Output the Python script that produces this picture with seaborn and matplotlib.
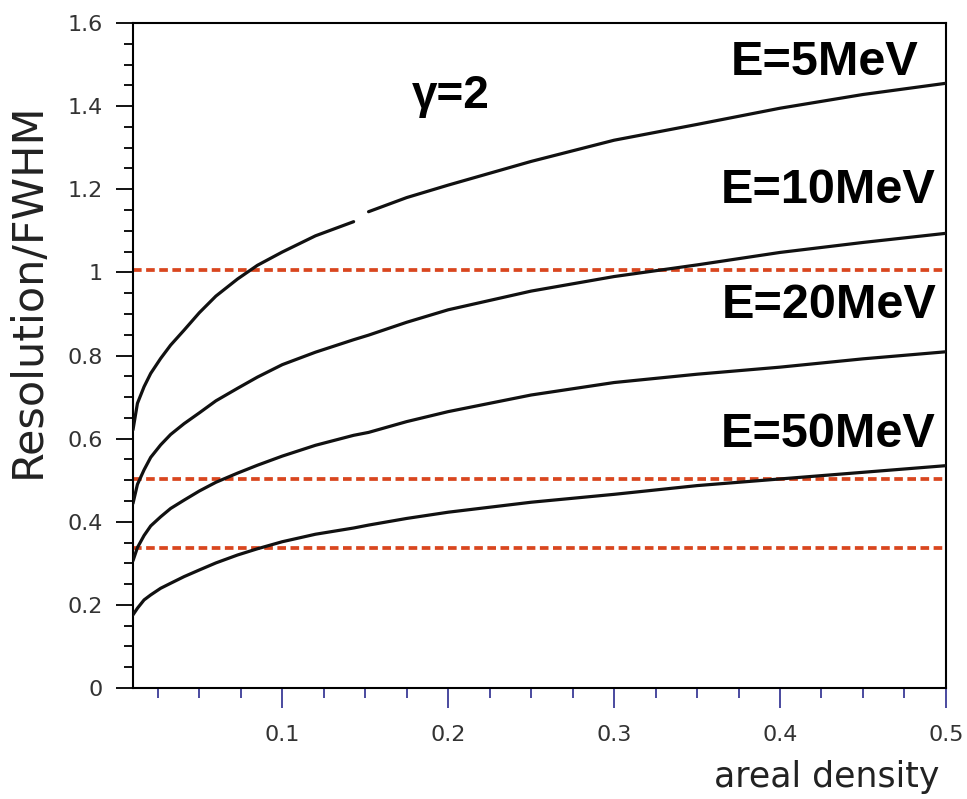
import numpy as np
import pandas as pd
import matplotlib
matplotlib.use("Agg")
import matplotlib.pyplot as plt
from matplotlib.ticker import MultipleLocator, FuncFormatter
import seaborn as sns

# areal density sample points
density = [0.01, 0.0127, 0.0167, 0.0207, 0.0267, 0.0327, 0.0408, 0.05, 0.06, 0.073,
           0.085, 0.1, 0.12, 0.143, 0.152, 0.175, 0.2, 0.25, 0.3, 0.35, 0.4, 0.45, 0.5]

res_5mev = [0.621, 0.685, 0.725, 0.757, 0.793, 0.825, 0.861, 0.903, 0.943, 0.984,
            1.017, 1.049, 1.088, 1.122, 1.146, 1.18, 1.21, 1.267, 1.318, 1.356,
            1.395, 1.428, 1.455]
res_10mev = [0.444, 0.49, 0.525, 0.555, 0.585, 0.61, 0.636, 0.662, 0.691, 0.721,
             0.748, 0.778, 0.808, 0.838, 0.849, 0.88, 0.91, 0.955, 0.99, 1.018,
             1.048, 1.072, 1.094]
res_20mev = [0.306, 0.338, 0.367, 0.39, 0.412, 0.432, 0.452, 0.474, 0.495, 0.517,
             0.536, 0.558, 0.584, 0.608, 0.615, 0.641, 0.665, 0.705, 0.735, 0.755,
             0.772, 0.792, 0.809]
res_50mev = [0.176, 0.192, 0.212, 0.224, 0.24, 0.252, 0.268, 0.284, 0.301, 0.32,
             0.335, 0.352, 0.37, 0.385, 0.392, 0.408, 0.423, 0.447, 0.466, 0.487,
             0.503, 0.519, 0.535]

energies = ["E=5MeV", "E=10MeV", "E=20MeV", "E=50MeV"]
series = [res_5mev, res_10mev, res_20mev, res_50mev]

# horizontal reference levels (dashed)
ref_levels = [1.005, 0.503, 0.337]

# the 5 MeV curve has a small break in the original
gap_after = {"E=5MeV": 0.145}

rows = []
for name, vals in zip(energies, series):
    for x, y in zip(density, vals):
        seg = 1 if (name in gap_after and x > gap_after[name]) else 0
        rows.append({"density": x, "res": y, "energy": name, "seg": seg})
df = pd.DataFrame(rows)

sns.set_style("ticks")
plt.rcParams["font.family"] = ["DejaVu Sans"]

fig = plt.figure(figsize=(9.67, 7.99), dpi=100)
ax = fig.add_axes([0.1375, 0.1389, 0.8407, 0.8323])

for (name, seg), part in df.groupby(["energy", "seg"]):
    sns.lineplot(data=part, x="density", y="res", color="#111111",
                 linewidth=2.3, sort=True, ax=ax, zorder=3)

for lvl in ref_levels:
    ax.axhline(lvl, color="#d9461f", linewidth=2.7, dashes=(2.3, 1.2), zorder=2)

ax.set_xlim(0.01, 0.5)
ax.set_ylim(0, 1.6)

ax.xaxis.set_major_locator(MultipleLocator(0.1))
ax.xaxis.set_minor_locator(MultipleLocator(0.025))
ax.yaxis.set_major_locator(MultipleLocator(0.2))
ax.yaxis.set_minor_locator(MultipleLocator(0.05))
ax.yaxis.set_major_formatter(FuncFormatter(lambda v, p: f"{v:g}"))
ax.xaxis.set_major_formatter(FuncFormatter(lambda v, p: f"{v:g}"))

ax.tick_params(axis="x", which="major", length=14.4, width=1.2, color="#2b2b8f",
               labelsize=16, labelcolor="#333333", pad=12)
ax.tick_params(axis="x", which="minor", length=7, width=1.2, color="#2b2b8f")
ax.tick_params(axis="y", which="major", length=12.5, width=1.3, color="black",
               labelsize=16, labelcolor="#333333", pad=9)
ax.tick_params(axis="y", which="minor", length=6.7, width=1.3, color="black")

for s in ax.spines.values():
    s.set_linewidth(1.5)
    s.set_color("black")

ax.set_xlabel("areal density", fontsize=25, color="#222222", ha="right", va="baseline")
ax.xaxis.set_label_coords(0.9926, -0.1489)
ax.set_ylabel("Resolution/FWHM", fontsize=31, color="#222222", ha="center", va="center")
ax.yaxis.set_label_coords(-0.1298, 0.598)

label_pos = {"E=5MeV": (0.4837, 1.475), "E=10MeV": (0.494, 1.167),
             "E=20MeV": (0.4946, 0.890), "E=50MeV": (0.494, 0.580)}
for name in energies:
    x, y = label_pos[name]
    ax.text(x, y, name, ha="right", va="baseline", fontsize=35, fontweight="bold",
            family=["Liberation Sans", "DejaVu Sans"], color="black")

ax.text(0.178, 1.396, "γ=2", ha="left", va="baseline", fontsize=33, fontweight="bold",
        family=["Liberation Sans", "DejaVu Sans"], color="black")

fig.savefig("out.png", dpi=100)
